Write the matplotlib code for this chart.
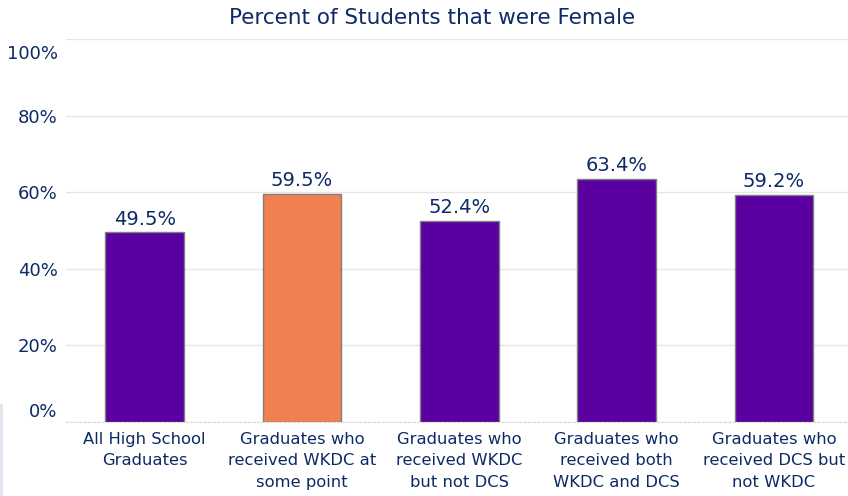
import matplotlib
matplotlib.use('Agg')
import matplotlib.pyplot as plt
import matplotlib.transforms as mtransforms
from matplotlib.patches import Rectangle

# data
categories = ['All High School\nGraduates',
              'Graduates who\nreceived WKDC at\nsome point',
              'Graduates who\nreceived WKDC\nbut not DCS',
              'Graduates who\nreceived both\nWKDC and DCS',
              'Graduates who\nreceived DCS but\nnot WKDC']
values = [49.5, 59.5, 52.4, 63.4, 59.2]
bar_colors = ['#5B00A0', '#F0804F', '#5B00A0', '#5B00A0', '#5B00A0']
yticks = [0, 20, 40, 60, 80, 100]

navy = '#0D2A66'

fig = plt.figure(figsize=(8.48, 4.96), dpi=100)
ax = fig.add_axes([66 / 848, 1 - 422 / 496, 1 - 66 / 848, 383 / 496])

x = list(range(len(categories)))
ax.bar(x, values, width=0.5, color=bar_colors, edgecolor='#7F7F7F', linewidth=1, zorder=3)

for xi, v in zip(x, values):
    ax.text(xi, v + 1.0, '%.1f%%' % v, ha='center', va='bottom', fontsize=14, color=navy)

ax.set_xlim(-0.5, 4.47)
ax.set_ylim(0, 100)
ax.set_yticks(yticks)
ax.set_yticklabels(['%d%%' % t for t in yticks], fontsize=13, color=navy)
ax.set_xticks(x)
ax.set_xticklabels(categories, fontsize=11.8, color=navy, linespacing=1.55)
ax.tick_params(axis='both', length=0)
ax.tick_params(axis='x', pad=7)
ax.tick_params(axis='y', pad=6)

# the outer y labels sit a bit inside their gridlines in the original
labels = ax.get_yticklabels()
labels[0].set_transform(labels[0].get_transform() +
                        mtransforms.ScaledTranslation(0, 12 / 100, fig.dpi_scale_trans))
labels[-1].set_transform(labels[-1].get_transform() +
                         mtransforms.ScaledTranslation(0, -13 / 100, fig.dpi_scale_trans))

ax.grid(axis='y', color='#E6E6E6', linewidth=1, zorder=0)
for s in ['top', 'right', 'left']:
    ax.spines[s].set_visible(False)
ax.spines['bottom'].set_color('#D9D9D9')
ax.spines['bottom'].set_linestyle((0, (2, 2)))

fig.text(432 / 848, 1 - 18 / 496, 'Percent of Students that were Female',
         ha='center', va='center', fontsize=15.5, color=navy)

# faint strip at the left edge
fig.patches.append(Rectangle((0, 0), 3 / 848, 92 / 496, transform=fig.transFigure,
                             facecolor='#E4E4F0', edgecolor='none'))

fig.savefig('out.png', dpi=100)
